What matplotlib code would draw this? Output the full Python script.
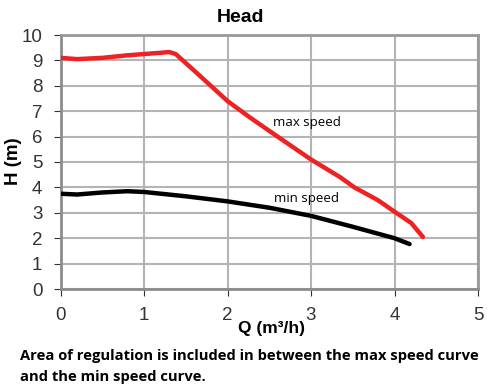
import matplotlib
matplotlib.use("Agg")
import matplotlib.pyplot as plt

plt.rcParams['font.family'] = ['Liberation Sans', 'DejaVu Sans']

# max speed curve
q_max = [0, 0.2, 0.5, 0.8, 1.0, 1.2, 1.3, 1.38, 1.6, 2.0, 2.27, 2.6, 3.0, 3.35, 3.52, 3.8, 4.02, 4.2, 4.34]
h_max = [9.1, 9.05, 9.1, 9.2, 9.25, 9.3, 9.33, 9.25, 8.6, 7.4, 6.75, 6.0, 5.1, 4.4, 4.0, 3.5, 3.0, 2.6, 2.05]

# min speed curve
q_min = [0, 0.2, 0.5, 0.8, 1.0, 1.5, 2.0, 2.5, 3.0, 3.5, 4.0, 4.18]
h_min = [3.75, 3.72, 3.8, 3.85, 3.82, 3.65, 3.45, 3.2, 2.88, 2.45, 2.0, 1.77]

fig = plt.figure(figsize=(4.87, 3.85), dpi=100)
ax = fig.add_axes([60.5/487, 1 - 289/385, 417.5/487, 254/385])
ax.set_axisbelow(True)

ax.plot(q_max, h_max, color='#ee2222', lw=3.2, solid_capstyle='round', solid_joinstyle='round', zorder=3)
ax.plot(q_min, h_min, color='black', lw=3.2, solid_capstyle='round', solid_joinstyle='round', zorder=3)

ax.text(2.95, 6.55, 'max speed', fontsize=9.5, family='Open Sans', ha='center', va='center')
ax.text(2.95, 3.55, 'min speed', fontsize=9.5, family='Open Sans', ha='center', va='center')

ax.set_xlim(0, 5)
ax.set_ylim(0, 10)
ax.set_xticks(range(6))
ax.set_yticks(range(11))
# light grey grid like the reference
ax.grid(True, color='#b4b4b4', linewidth=1.5, alpha=1)
ax.tick_params(labelsize=13.5, colors='#333333', length=5, pad=8)
for s in ['top', 'right']:
    ax.spines[s].set_color('#999999')
    ax.spines[s].set_linewidth(2)
for s in ['left', 'bottom']:
    ax.spines[s].set_color('#8c8c8c')
    ax.spines[s].set_linewidth(2)

fig.text(240/487, 1 - 18/385, 'Head', fontsize=14, fontweight='bold', ha='center', va='center')
fig.text(14/487, 1 - 161/385, 'H (m)', fontsize=13.5, fontweight='bold', rotation=90, ha='center', va='center')
fig.text(271/487, 1 - 328/385, 'Q (m\u00b3/h)', fontsize=12.5, fontweight='bold', ha='center', va='center')
fig.text(20/487, 1 - 356/385, 'Area of regulation is included in between the max speed curve',
         fontsize=10.6, fontweight='bold', family='Open Sans', ha='left', va='center')
fig.text(20/487, 1 - 377/385, 'and the min speed curve.',
         fontsize=10.6, fontweight='bold', family='Open Sans', ha='left', va='center')

fig.savefig('out.png', dpi=100)
